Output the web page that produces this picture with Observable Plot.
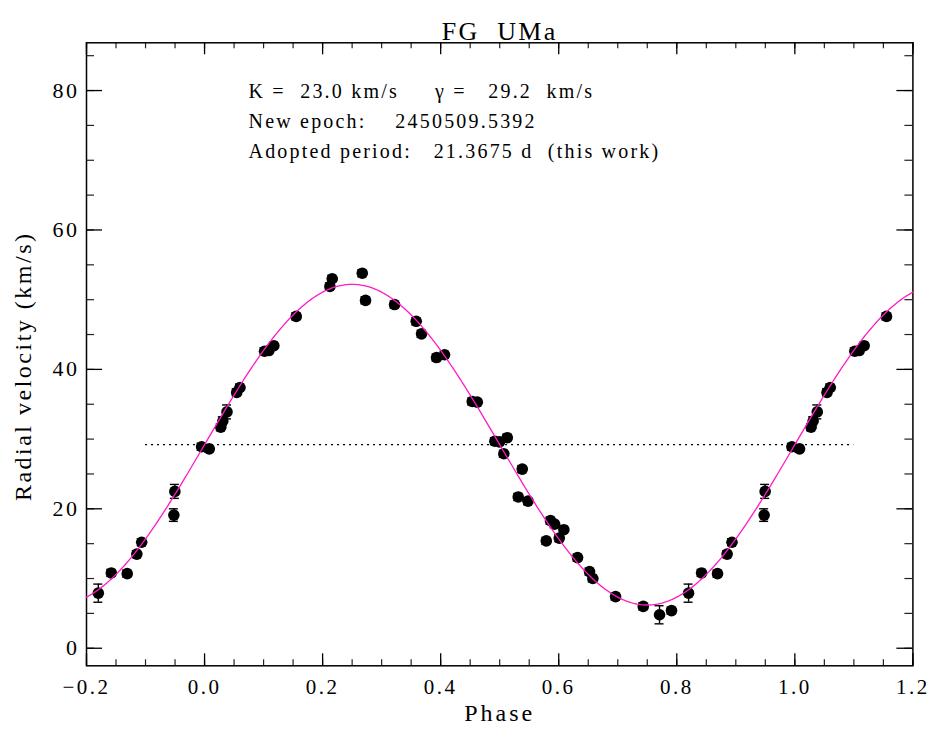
<!DOCTYPE html>
<html>
<head>
<meta charset="utf-8">
<script src="https://cdn.jsdelivr.net/npm/d3@7"></script>
<script src="https://cdn.jsdelivr.net/npm/@observablehq/plot@0.6"></script>
<style>
  html, body { margin: 0; padding: 0; background: #fff; }
  svg text { white-space: pre; }
</style>
</head>
<body>
<div id="chart"></div>
<script>
// ---- data (phase in [0,1), radial velocity km/s, error km/s) ----
const phase = [0.008,0.0275,0.031,0.038,0.0545,0.060,0.1016,0.109,0.1174,0.1553,
  0.2123,0.2163,0.2672,0.2727,0.3219,0.3586,0.3676,0.393,0.4066,0.4535,
  0.462,0.4918,0.4997,0.507,0.5128,0.5314,0.5382,0.548,0.5789,0.5861,
  0.593,0.6009,0.6087,0.6319,0.6522,0.6578,0.6963,0.7432,0.7708,0.7911,
  0.820,0.842,0.869,0.8853,0.8935,0.948,0.9497,0.995];
const rv = [28.6,31.7,32.6,33.9,36.7,37.4,42.6,42.7,43.4,47.6,
  51.9,53.0,53.8,49.9,49.3,46.9,45.1,41.7,42.1,35.4,
  35.3,29.7,29.6,27.9,30.2,21.7,25.7,21.1,15.4,18.3,
  17.8,15.8,17.0,13.0,11.0,10.0,7.4,6.0,4.8,5.4,
  7.9,10.8,10.7,13.5,15.2,19.1,22.5,28.9];
const err = [0.5,0.5,0.6,1.0,0.5,0.5,0.5,0.5,0.5,0.5,
  0.5,0.5,0.5,0.5,0.5,0.5,0.5,0.5,0.5,0.5,
  0.5,0.5,0.5,0.5,0.5,0.5,0.5,0.5,0.5,0.5,
  0.5,0.5,0.5,0.5,0.5,0.5,0.5,0.5,1.3,0.5,
  1.3,0.5,0.5,0.5,0.5,0.9,1.0,0.5];
const K = 23.0, gamma = 29.2;
const title = "FG  UMa";
const notes = ["K =  23.0 km/s     \u03b3 =   29.2  km/s",
               "New epoch:    2450509.5392",
               "Adopted period:   21.3675 d  (this work)"];
const xTitle = "Phase", yTitle = "Radial velocity (km/s)";
const xTicks = [-0.2,0.0,0.2,0.4,0.6,0.8,1.0,1.2];
const yTicks = [0,20,40,60,80];

// ---- build table (each observation also shown one cycle earlier/later) ----
const xMin = -0.2, xMax = 1.2;
const pts = [];
phase.forEach((p, i) => {
  for (const s of [-1, 0, 1]) {
    const q = p + s;
    if (q >= xMin && q <= xMax) pts.push({phase: q, rv: rv[i], err: err[i]});
  }
});
// orbit model from K and gamma
const model = d3.range(xMin, xMax + 1e-9, 0.0025).map(p => ({phase: p, rv: gamma + K * Math.sin(2 * Math.PI * p)}));

const W = 932, H = 733;
const mT = 42.3, mB = 67.7, mL = 86, mR = 19.6;
const pw = W - mL - mR, ph = H - mT - mB;
const capHalf = 4.5 * (xMax - xMin) / pw; // error-bar cap half width (4.5 px)
const xMinor = d3.range(-0.2, 1.2001, 0.05).map(v => +v.toFixed(2));
const yMinor = d3.range(0, 86, 5);
const fmt = d3.format(".1f");
const font = "Liberation Serif";

const chart = Plot.plot({
  width: W, height: H,
  marginTop: mT, marginBottom: mB, marginLeft: mL, marginRight: mR,
  style: {fontFamily: font, fontSize: "20px", background: "#fff", color: "#000"},
  x: {type: "linear", domain: [xMin, xMax], axis: null},
  y: {type: "linear", domain: [-2.52, 86.85], axis: null},
  marks: [
    // ticks (inward) on four sides
    Plot.ruleX(xMinor, {x: d => d, insetTop: ph - 6, stroke: "#222", strokeWidth: 1.2}),
    Plot.ruleX(xMinor, {x: d => d, insetBottom: ph - 6, stroke: "#222", strokeWidth: 1.2}),
    Plot.ruleX(xTicks, {x: d => d, insetTop: ph - 12, stroke: "#000", strokeWidth: 1.3}),
    Plot.ruleX(xTicks, {x: d => d, insetBottom: ph - 12, stroke: "#000", strokeWidth: 1.3}),
    Plot.ruleY(yMinor, {y: d => d, insetRight: pw - 8, stroke: "#222", strokeWidth: 1.2}),
    Plot.ruleY(yMinor, {y: d => d, insetLeft: pw - 8, stroke: "#222", strokeWidth: 1.2}),
    Plot.ruleY(yTicks, {y: d => d, insetRight: pw - 16, stroke: "#000", strokeWidth: 1.3}),
    Plot.ruleY(yTicks, {y: d => d, insetLeft: pw - 16, stroke: "#000", strokeWidth: 1.3}),
    Plot.frame({stroke: "#000", strokeWidth: 1.5}),
    // tick labels
    Plot.text(xTicks, {x: d => d, text: d => fmt(d), frameAnchor: "bottom", dy: 28, fontSize: 21}),
    Plot.text(yTicks, {y: d => d, text: d => String(d), frameAnchor: "left", textAnchor: "end", dx: -7, fontSize: 22}),
    // axis titles
    Plot.text([xTitle], {text: d => d, frameAnchor: "bottom", dy: 55, fontSize: 24}),
    Plot.text([yTitle], {text: d => d, frameAnchor: "left", textAnchor: "middle", dx: -63, dy: 12, rotate: -90, fontSize: 24}),
    Plot.text([title], {text: d => d, frameAnchor: "top", dy: -21, fontSize: 26}),
    // annotations
    Plot.text([notes[0]], {text: d => d, frameAnchor: "top-left", textAnchor: "start", dx: 162, dy: 41, fontSize: 20}),
    Plot.text([notes[1]], {text: d => d, frameAnchor: "top-left", textAnchor: "start", dx: 162, dy: 71, fontSize: 20}),
    Plot.text([notes[2]], {text: d => d, frameAnchor: "top-left", textAnchor: "start", dx: 162, dy: 101, fontSize: 20}),
    // systemic velocity
    Plot.ruleY([gamma], {x1: -0.1, x2: 1.1, stroke: "#000", strokeWidth: 1.3, strokeDasharray: "2,4"}),
    // data with error bars
    Plot.ruleX(pts, {x: "phase", y1: d => d.rv - d.err, y2: d => d.rv + d.err, stroke: "#000", strokeWidth: 1.4}),
    Plot.ruleY(pts, {y: d => d.rv - d.err, x1: d => d.phase - capHalf, x2: d => d.phase + capHalf, stroke: "#000", strokeWidth: 1.4}),
    Plot.ruleY(pts, {y: d => d.rv + d.err, x1: d => d.phase - capHalf, x2: d => d.phase + capHalf, stroke: "#000", strokeWidth: 1.4}),
    Plot.dot(pts, {x: "phase", y: "rv", r: 5.8, fill: "#000", stroke: "none"}),
    Plot.line(model, {x: "phase", y: "rv", stroke: "#ff1ac6", strokeWidth: 1.3})
  ]
});
// letter spacing to mimic the wide plotting font
const spacing = new Map();
xTicks.forEach(v => spacing.set(fmt(v), 2.5));
yTicks.forEach(v => spacing.set(String(v), 2.5));
spacing.set(xTitle, 3); spacing.set(yTitle, 2.5); spacing.set(title, 2.3);
notes.forEach(n => spacing.set(n, 2.2));
chart.querySelectorAll("text").forEach(t => {
  const s = spacing.get(t.textContent);
  if (s != null) t.style.letterSpacing = s + "px";
});
document.getElementById("chart").appendChild(chart);
</script>
</body>
</html>
